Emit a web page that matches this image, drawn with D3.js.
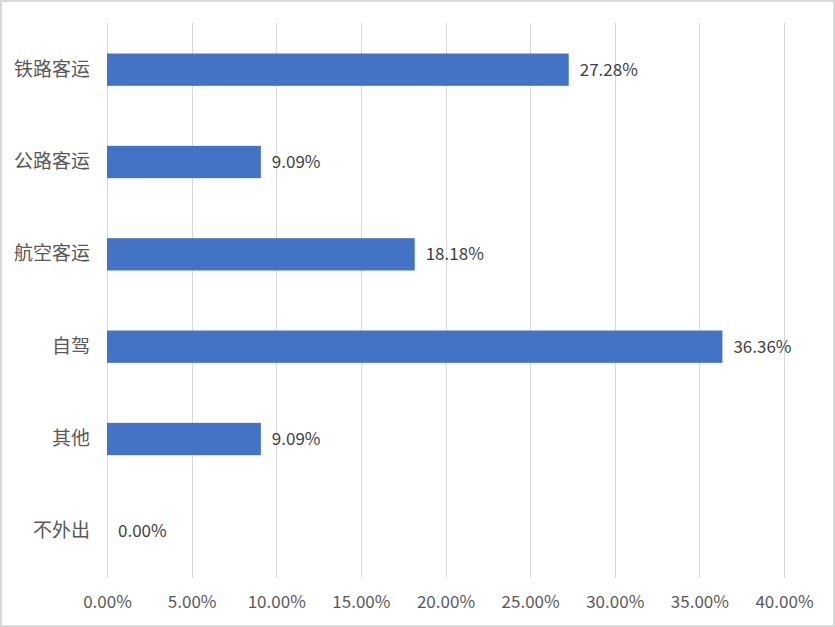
<!DOCTYPE html>
<html><head><meta charset="utf-8">
<script src="https://cdn.jsdelivr.net/npm/d3@7"></script>
<style>body{margin:0;background:#fff;}svg{display:block;}</style>
</head><body>
<script>
const categories = ["铁路客运","公路客运","航空客运","自驾","其他","不外出"];
const values = [27.28, 9.09, 18.18, 36.36, 9.09, 0.00];
const tickValues = [0,5,10,15,20,25,30,35,40];

const W = 835, H = 627;
const svg = d3.select("body").append("svg").attr("width", W).attr("height", H);
svg.append("rect").attr("x",1).attr("y",1).attr("width",W-2).attr("height",H-2)
  .attr("fill","#fff").attr("stroke","#d9d9d9").attr("stroke-width",2);

const font = "'Noto Sans CJK SC','Microsoft YaHei',sans-serif";
const x = d3.scaleLinear().domain([0,40]).range([107,784]);
const y = d3.scaleBand().domain(categories).range([23.5,577.5]).paddingInner(0.65).paddingOuter(0.325);

const grid = svg.append("g");
grid.selectAll("line").data(tickValues).join("line")
  .attr("x1", d=>Math.round(x(d))+0.5).attr("x2", d=>Math.round(x(d))+0.5)
  .attr("y1", 23).attr("y2", 578)
  .attr("stroke","#d9d9d9").attr("stroke-width",1);

const xAxis = d3.axisBottom(x).tickValues(tickValues).tickSize(0).tickPadding(0)
  .tickFormat(d => d.toFixed(2) + "%");
const gx = svg.append("g").attr("transform","translate(0,596)").call(xAxis);
gx.select(".domain").remove();
gx.selectAll("text").attr("fill","#595959").style("font-family",font).style("font-size","17px").attr("dy","0.71em");

const yAxis = d3.axisLeft(y).tickSize(0).tickPadding(17);
const gy = svg.append("g").attr("transform","translate(107,0)").call(yAxis);
gy.select(".domain").remove();
gy.selectAll("text").attr("fill","#595959").style("font-family",font).style("font-size","19px");

svg.append("g").selectAll("rect").data(categories).join("rect")
  .attr("x", x(0)).attr("y", d=>y(d))
  .attr("width", (d,i)=>x(values[i])-x(0)).attr("height", y.bandwidth())
  .attr("fill","#4472c4");

svg.append("g").selectAll("text").data(categories).join("text")
  .attr("x", (d,i)=>x(values[i])+11).attr("y", d=>y(d)+y.bandwidth()/2)
  .attr("dy","0.35em").attr("fill","#404040")
  .style("font-family",font).style("font-size","17px")
  .text((d,i)=>values[i].toFixed(2)+"%");
</script>
</body></html>
